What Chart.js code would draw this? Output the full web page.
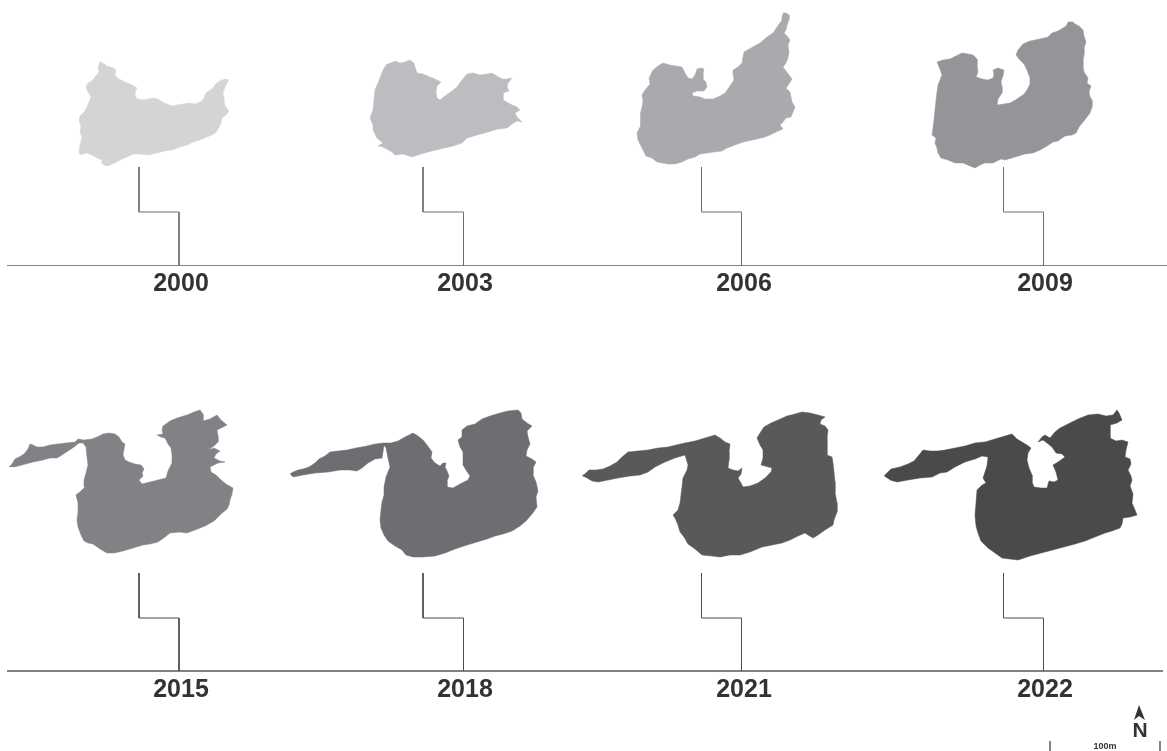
<!DOCTYPE html>
<html>
<head>
<meta charset="utf-8">
<title>Extent 2000-2022</title>
<script src="https://cdn.jsdelivr.net/npm/chart.js@4"></script>
<style>
  html, body { margin: 0; padding: 0; background: #fff; }
  canvas { display: block; }
</style>
</head>
<body>
<canvas id="myChart" width="1167" height="751"></canvas>
<script>
const years = ['2000', '2003', '2006', '2009', '2015', '2018', '2021', '2022'];
const yearColors = ['#d3d4d6', '#bcbdc0', '#a8aaad', '#939598', '#808285', '#6d6e71', '#58595b', '#4a4a4c'];

// outlines, x,y pairs
const outline2000 = [100,61, 102,63, 105,64, 106,66, 110,67, 114,68, 116,71, 115,75, 117,78, 121,80, 125,82, 130,84, 134,86, 137,88, 135,92, 135,97, 138,99, 143,100, 148,99, 154,98, 158,99, 162,102, 167,104, 172,106, 177,105, 183,104, 189,103, 195,104, 200,102, 203,100, 205,95, 207,92, 212,89, 215,85, 218,82, 222,80, 227,79, 228,82, 225,87, 223,93, 224,98, 224,104, 226,107, 229,111, 226,115, 222,118, 221,123, 219,127, 217,131, 214,134, 207,137, 200,140, 193,142, 187,145, 180,147, 172,150, 165,151, 157,153, 148,155, 140,154, 133,154, 127,157, 120,160, 115,163, 110,165, 106,166, 103,164, 102,160, 97,158, 92,155, 87,153, 83,154, 80,155, 79,152, 80,145, 82,137, 80,132, 81,127, 79,120, 80,116, 84,112, 87,107, 89,102, 91,97, 88,92, 86,87, 88,83, 92,81, 95,77, 99,72, 98,67];
const outline2003 = [395,61, 400,63, 405,62, 410,60, 414,63, 415,67, 417,73, 423,74, 430,77, 435,79, 441,82, 437,86, 436,92, 437,98, 440,100, 445,96, 452,91, 457,87, 462,80, 467,74, 473,73, 480,75, 487,74, 492,73, 497,76, 502,79, 507,79, 512,78, 508,83, 507,87, 509,91, 503,93, 503,100, 510,104, 517,107, 520,110, 515,113, 517,117, 522,122, 517,121, 512,124, 507,128, 498,129, 488,132, 477,135, 467,138, 462,143, 453,146, 440,149, 428,152, 418,155, 412,157, 403,154, 395,155, 392,152, 383,147, 378,146, 383,143, 377,138, 373,130, 373,125, 370,118, 373,110, 374,100, 375,90, 380,78, 383,70, 387,64];
const outline2006 = [783,13, 786,13, 789,15, 789,20, 787,25, 786,30, 784,33, 787,36, 790,40, 788,45, 789,52, 788,58, 786,63, 783,67, 786,71, 789,75, 792,79, 789,84, 786,88, 790,92, 791,97, 792,102, 795,107, 793,112, 791,117, 786,118, 783,122, 780,125, 783,129, 776,132, 770,135, 765,137, 757,139, 748,141, 743,142, 735,145, 727,148, 722,151, 714,152, 707,153, 700,154, 695,157, 688,159, 682,162, 675,164, 668,164, 662,163, 657,162, 652,158, 646,156, 643,150, 641,146, 638,140, 637,133, 640,127, 641,120, 640,113, 642,107, 643,101, 642,95, 645,90, 650,84, 649,78, 653,70, 658,66, 663,63, 670,65, 676,66, 682,67, 685,73, 688,78, 692,79, 695,75, 697,69, 701,68, 704,69, 703,74, 703,79, 706,82, 707,87, 704,91, 697,91, 692,93, 693,96, 700,97, 705,99, 713,99, 720,96, 725,93, 730,86, 734,80, 733,74, 733,70, 738,67, 742,63, 743,57, 744,52, 751,48, 760,43, 767,37, 773,33, 777,27, 782,20, 782,16];
const outline2009 = [1068,22, 1073,22, 1075,24, 1079,26, 1083,30, 1084,36, 1086,42, 1084,48, 1084,55, 1083,61, 1083,66, 1084,72, 1088,78, 1087,83, 1091,86, 1089,92, 1090,97, 1092,100, 1092,107, 1090,113, 1087,117, 1083,122, 1079,127, 1076,133, 1072,135, 1065,136, 1058,141, 1053,142, 1047,146, 1040,150, 1033,153, 1025,154, 1015,157, 1005,160, 1001,159, 993,163, 985,163, 980,165, 975,168, 970,166, 963,163, 955,163, 948,160, 941,158, 938,153, 937,148, 935,143, 936,138, 932,135, 933,128, 934,120, 935,110, 936,100, 937,92, 938,85, 940,80, 942,75, 940,69, 937,62, 943,60, 950,59, 956,56, 962,53, 968,54, 973,55, 977,59, 977,65, 978,72, 976,77, 982,79, 988,80, 993,78, 994,74, 993,70, 998,68, 1004,70, 1003,76, 1001,81, 1002,87, 1002,93, 998,99, 997,105, 1004,104, 1010,103, 1017,99, 1024,94, 1027,90, 1030,84, 1030,78, 1027,70, 1024,64, 1019,59, 1016,55, 1018,50, 1023,44, 1030,41, 1040,39, 1048,37, 1052,33, 1058,31, 1063,28, 1066,26];
const outline2015 = [9,467, 12,464, 15,459, 19,457, 24,454, 28,449, 30,444, 33,445, 37,447, 43,447, 50,445, 58,444, 66,443, 75,442, 78,439, 84,440, 92,439, 97,437, 103,434, 109,433, 115,434, 119,437, 122,442, 125,444, 124,449, 123,455, 125,460, 129,462, 135,464, 141,465, 144,469, 142,473, 143,476, 139,480, 142,484, 150,482, 158,480, 166,478, 168,471, 172,463, 172,455, 171,448, 168,444, 165,438, 161,437, 157,435, 163,434, 162,430, 163,426, 170,421, 177,418, 187,415, 194,412, 200,410, 203,414, 203,421, 210,419, 217,415, 221,420, 227,425, 221,428, 217,430, 218,436, 218,442, 214,446, 208,450, 214,448, 220,451, 216,454, 214,458, 220,461, 225,462, 218,463, 210,467, 211,472, 216,475, 220,479, 226,484, 233,488, 232,494, 230,500, 229,505, 227,509, 221,514, 214,521, 205,526, 195,530, 187,533, 180,532, 170,533, 165,537, 158,542, 150,544, 143,545, 133,548, 123,551, 114,553, 107,553, 100,549, 93,544, 88,543, 84,541, 81,535, 78,527, 77,520, 78,512, 78,503, 76,495, 81,491, 85,487, 84,480, 86,473, 88,465, 87,457, 86,447, 83,443, 79,443, 74,447, 68,451, 62,455, 57,458, 50,458, 43,460, 33,462, 22,465, 14,467];
const outline2018 = [290,474, 293,472, 298,470, 303,469, 309,467, 315,463, 319,459, 325,456, 330,452, 338,451, 347,450, 356,448, 367,446, 375,444, 383,443, 391,443, 398,441, 405,437, 413,433, 418,436, 423,440, 427,445, 432,452, 431,458, 435,463, 440,466, 443,463, 446,463, 445,467, 447,471, 449,476, 447,481, 447,487, 453,488, 460,484, 468,480, 470,476, 466,470, 463,465, 463,458, 463,452, 460,447, 458,440, 462,437, 462,430, 467,426, 475,424, 482,419, 490,416, 500,413, 508,411, 518,410, 521,413, 522,419, 527,423, 532,426, 527,431, 528,437, 530,444, 527,450, 526,456, 532,459, 536,462, 533,468, 533,475, 536,482, 538,491, 536,497, 537,507, 532,514, 526,521, 520,526, 512,531, 503,534, 495,536, 487,539, 477,542, 467,545, 455,549, 445,553, 435,556, 423,557, 413,557, 406,555, 402,550, 395,546, 388,541, 384,535, 381,528, 380,520, 381,510, 382,502, 384,495, 384,487, 386,477, 390,467, 388,458, 386,448, 384,445, 383,452, 382,458, 375,459, 368,463, 362,468, 357,471, 350,470, 340,470, 328,472, 315,473, 303,475, 293,477];
const outline2021 = [582,476, 586,473, 589,470, 596,470, 603,469, 610,466, 617,462, 622,457, 628,452, 638,451, 648,450, 658,448, 668,447, 676,445, 685,443, 695,441, 705,438, 715,435, 720,438, 725,442, 730,444, 729,452, 729,460, 728,468, 733,470, 738,471, 742,468, 741,474, 738,478, 741,483, 743,487, 750,486, 758,483, 765,478, 771,472, 772,468, 765,466, 761,465, 763,458, 763,450, 760,445, 757,438, 760,433, 764,427, 771,423, 778,420, 787,416, 795,414, 802,412, 810,413, 818,415, 825,417, 821,420, 820,424, 825,426, 828,430, 827,438, 827,447, 827,455, 832,457, 833,463, 834,472, 835,482, 835,492, 837,503, 837,512, 834,520, 833,525, 825,530, 818,535, 813,538, 808,535, 805,533, 798,536, 790,540, 782,543, 772,545, 762,547, 750,552, 740,555, 730,555, 720,557, 712,556, 702,555, 695,549, 688,544, 684,537, 680,532, 678,525, 675,518, 673,515, 678,510, 680,503, 681,495, 682,487, 683,478, 687,470, 688,465, 685,455, 675,458, 665,462, 655,467, 648,472, 640,475, 630,476, 618,478, 608,480, 598,482, 592,481, 587,478];
const outline2022 = [884,476, 887,473, 891,469, 900,467, 908,464, 914,461, 919,455, 923,450, 930,451, 938,451, 945,450, 955,448, 965,446, 975,443, 985,442, 995,439, 1005,436, 1012,434, 1017,439, 1022,442, 1027,445, 1031,448, 1028,453, 1027,460, 1029,468, 1032,475, 1032,482, 1034,487, 1041,488, 1047,488, 1049,481, 1054,482, 1058,480, 1056,472, 1053,465, 1058,462, 1065,457, 1062,454, 1056,453, 1052,447, 1047,443, 1043,440, 1038,442, 1042,437, 1045,435, 1050,438, 1055,432, 1060,428, 1068,424, 1078,419, 1088,415, 1098,414, 1106,416, 1113,415, 1117,410, 1119,413, 1122,420, 1117,423, 1110,425, 1110,432, 1110,438, 1116,441, 1122,440, 1128,442, 1126,450, 1125,457, 1130,459, 1131,464, 1128,470, 1131,476, 1132,480, 1130,486, 1133,494, 1132,503, 1135,510, 1137,515, 1130,517, 1123,518, 1122,524, 1120,528, 1112,531, 1105,533, 1095,537, 1085,541, 1075,544, 1060,548, 1045,552, 1030,556, 1018,560, 1010,559, 1002,558, 995,553, 988,548, 981,541, 978,533, 976,526, 975,515, 976,503, 977,490, 982,485, 986,483, 983,478, 985,472, 987,466, 988,457, 982,456, 975,459, 965,462, 955,467, 947,472, 940,473, 932,477, 920,478, 908,480, 897,482, 890,480];
const outlines = [outline2000, outline2003, outline2006, outline2009, outline2015, outline2018, outline2021, outline2022];

// elbow connectors from each shape down to its baseline
const stemTopX = [139, 423, 701.5, 1003.5, 139, 423, 701.5, 1003.5];
const stemBottomX = [179, 463.5, 741.5, 1043.5, 179, 463.5, 741.5, 1043.5];
const labelX = [181, 465, 744, 1045, 181, 465, 744, 1045];
const stemTopY = [167, 573];
const stemMidY = [212, 618];
const baselineY = [265.5, 671];
const baselineStart = [7, 7];
const baselineEnd = [1167, 1163];
const labelY = [291, 697];
const baselineWidths = [1, 1.6];

const northArrow = [1139,705, 1145,720, 1139,716, 1134,720];
const scaleTicksX = [1050, 1160];
const scaleTickY = [741, 751];

function pairs(flat) {
  const pts = [];
  for (let i = 0; i < flat.length; i += 2) pts.push({ x: flat[i], y: flat[i + 1] });
  return pts;
}

const datasets = [];

// shapes
outlines.forEach((o, i) => {
  datasets.push({
    data: pairs(o),
    showLine: true,
    fill: 'shape',
    tension: 0,
    pointRadius: 0,
    borderWidth: 0.5,
    borderColor: yearColors[i],
    backgroundColor: yearColors[i]
  });
});

function addLine(pts, width, color) {
  datasets.push({
    data: pts,
    showLine: true,
    fill: false,
    tension: 0,
    pointRadius: 0,
    borderWidth: width,
    borderColor: color
  });
}

// connectors
years.forEach((y, i) => {
  const row = i < 4 ? 0 : 1;
  addLine([
    { x: stemTopX[i], y: stemTopY[row] },
    { x: stemTopX[i], y: stemMidY[row] },
    { x: stemBottomX[i], y: stemMidY[row] },
    { x: stemBottomX[i], y: baselineY[row] }
  ], 1, row ? '#4d4d4f' : '#6d6e71');
});

// baselines
baselineY.forEach((y, r) => {
  addLine([{ x: baselineStart[r], y: y }, { x: baselineEnd[r], y: y }], baselineWidths[r], r ? '#58595b' : '#808285');
});

// north arrow and scale bar
datasets.push({
  data: pairs(northArrow),
  showLine: true,
  fill: 'shape',
  tension: 0,
  pointRadius: 0,
  borderWidth: 0,
  backgroundColor: '#333335'
});
scaleTicksX.forEach(x => {
  addLine([{ x: x, y: scaleTickY[0] }, { x: x, y: scaleTickY[1] }], 1.2, '#333335');
});

// year labels, N and scale text
const textPlugin = {
  id: 'textPlugin',
  afterDatasetsDraw(chart) {
    const { ctx, scales } = chart;
    ctx.save();
    ctx.textAlign = 'center';
    ctx.textBaseline = 'alphabetic';
    ctx.fillStyle = '#333335';
    ctx.font = 'bold 25px "Liberation Sans", Arial, sans-serif';
    years.forEach((y, i) => {
      const row = i < 4 ? 0 : 1;
      ctx.fillText(y, scales.x.getPixelForValue(labelX[i]), scales.y.getPixelForValue(labelY[row]));
    });
    ctx.font = 'bold 21px "Liberation Sans", Arial, sans-serif';
    ctx.fillText('N', scales.x.getPixelForValue(1140), scales.y.getPixelForValue(737));
    ctx.font = 'bold 9px "Liberation Sans", Arial, sans-serif';
    ctx.fillText('100m', scales.x.getPixelForValue(1105), scales.y.getPixelForValue(748.5));
    ctx.restore();
  }
};

const chart = new Chart(document.getElementById('myChart'), {
  type: 'scatter',
  data: { datasets: datasets },
  plugins: [textPlugin],
  options: {
    responsive: false,
    animation: false,
    layout: { padding: 0 },
    plugins: { legend: { display: false }, tooltip: { enabled: false } },
    scales: {
      x: { display: false, min: 0, max: 1167 },
      y: { display: false, min: 0, max: 751, reverse: true }
    }
  }
});
</script>
</body>
</html>
